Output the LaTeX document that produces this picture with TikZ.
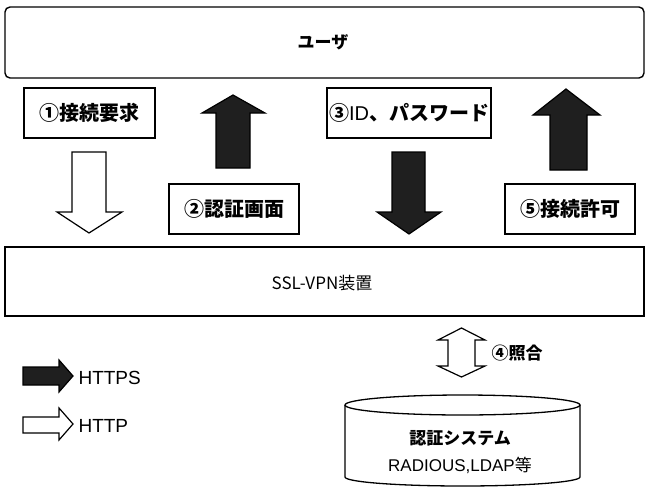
\documentclass[tikz,border=0pt]{standalone}
\usepackage{fontspec}
\setmainfont{Noto Sans CJK JP}
\newfontfamily\latinfont{Liberation Sans}
\begin{document}
\begin{tikzpicture}[x=1pt,y=-1pt,
  bigbox/.style={draw,line width=1.4pt,minimum width=639pt,inner sep=0pt},
  lbl/.style={draw,line width=1.3pt,minimum height=50pt,inner sep=0pt,font=\bfseries\fontsize{20}{20}\selectfont},
  darrow/.style={draw,line width=1.2pt,fill=black!88,line join=miter},
  warrow/.style={draw,line width=1.2pt,fill=white,line join=miter}]
\useasboundingbox (0,0) rectangle (646,488);
% main boxes
\node[bigbox,rounded corners=5pt,minimum height=71pt] (user) at (324.5,42.5) {};
\node[font=\bfseries\fontsize{17}{17}\selectfont] (usertxt) at (323,42) {ユーザ};
\node[bigbox,minimum height=69pt] (vpn) at (324.5,281.5) {};
\node[font=\fontsize{17}{17}\selectfont] (vpntxt) at (322,283) {SSL-VPN装置};
% labels
\node[lbl,minimum width=131pt] (l1) at (89.5,113) {①接続要求};
\node[lbl,minimum width=130pt] (l2) at (234,209) {②認証画面};
\node[lbl,minimum width=164pt] (l3) at (409,113) {③{\latinfont\mdseries ID}、パスワード};
\node[lbl,minimum width=130pt] (l5) at (570,209) {⑤接続許可};
% arrows
\draw[warrow] (72,152) -- (106,152) -- (106,212) -- (122,212) -- (89,233) -- (57,212) -- (72,212) -- cycle;
\draw[darrow] (216,168) -- (250,168) -- (250,113) -- (265,113) -- (233,95) -- (202,113) -- (216,113) -- cycle;
\draw[darrow] (392,152) -- (425,152) -- (425,212) -- (441,212) -- (409,234) -- (377,212) -- (392,212) -- cycle;
\draw[darrow] (550,170) -- (587,170) -- (587,115) -- (600,115) -- (566,89) -- (533,115) -- (550,115) -- cycle;
% double arrow
\draw[warrow] (461.5,328) -- (485,340) -- (475,340) -- (475,366) -- (485,366) -- (461.5,377) -- (438,366) -- (448,366) -- (448,340) -- (438,340) -- cycle;
\node[anchor=west,font=\bfseries\fontsize{17}{17}\selectfont] (l4) at (488,353) {④照合};
% cylinder
\draw[line width=1.3pt,fill=white] (345,405) -- (345,477) arc[start angle=180,end angle=360,x radius=117.5pt,y radius=9pt] -- (580,405);
\draw[line width=1.3pt] (462.5,405) ellipse[x radius=117.5pt,y radius=10pt];
\node[font=\bfseries\fontsize{17}{17}\selectfont] (auth) at (460,438) {認証システム};
\node[font=\fontsize{17}{17}\selectfont] (auth2) at (460,465) {{\latinfont RADIOUS,LDAP}等};
% legend
\draw[darrow] (23,367) -- (59,367) -- (59,360) -- (73,376) -- (59,392) -- (59,385) -- (23,385) -- cycle;
\node[anchor=west,font=\latinfont\fontsize{19}{19}\selectfont] (https) at (75,378) {HTTPS};
\draw[warrow] (23,417) -- (59,417) -- (59,408) -- (73,424) -- (59,440) -- (59,433) -- (23,433) -- cycle;
\node[anchor=west,font=\latinfont\fontsize{19}{19}\selectfont] (http) at (75,426) {HTTP};
\end{tikzpicture}
\end{document}
